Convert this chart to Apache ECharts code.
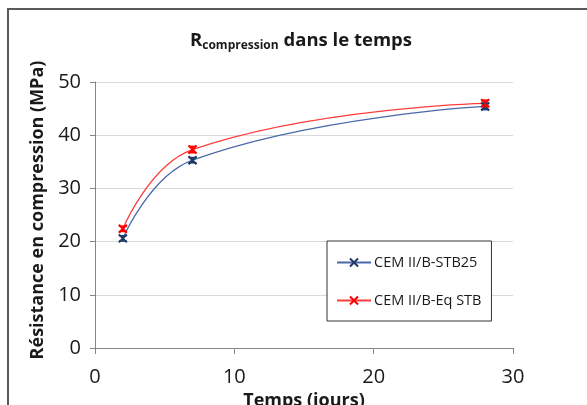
<!DOCTYPE html>
<html>
<head>
<meta charset="utf-8">
<script src="https://cdn.jsdelivr.net/npm/echarts@6/dist/echarts.min.js"></script>
<style>
    html, body { margin: 0; padding: 0; background: #fff; }
    #chart { width: 587px; height: 405px; }
</style>
</head>
<body>
<div id="chart"></div>
<script>
// jours de mesure
var days = [2, 7, 28];
// résistance (MPa) et demi-largeur des barres d'erreur
var stb25 = [20.6, 35.3, 45.4];
var stb25Err = [0.5, 0.5, 0.6];
var eqStb = [22.4, 37.3, 46.0];
var eqStbErr = [0.5, 0.6, 0.6];
var seriesNames = ['CEM II/B-STB25', 'CEM II/B-Eq STB'];
var xTicks = [0, 10, 20, 30];
var yTicks = [0, 10, 20, 30, 40, 50];

var FONT = 'Open Sans';
var crossPath = 'path://M0,0L10,10M10,0L0,10';

function pairs(xs, ys) {
    return xs.map(function (x, i) { return [x, ys[i]]; });
}
function errData(xs, ys, es) {
    return xs.map(function (x, i) { return [x, ys[i], es[i]]; });
}

// barres d'erreur dessinées via une série custom
function errorBars(color) {
    return {
        type: 'custom',
        silent: true,
        z: 4,
        renderItem: function (params, api) {
            var x = api.value(0), y = api.value(1), e = api.value(2);
            var top = api.coord([x, y + e]);
            var bot = api.coord([x, y - e]);
            var w = 4;
            var st = { stroke: color, lineWidth: 1.5 };
            return {
                type: 'group',
                children: [
                    { type: 'line', shape: { x1: top[0], y1: top[1], x2: bot[0], y2: bot[1] }, style: st },
                    { type: 'line', shape: { x1: top[0] - w, y1: top[1], x2: top[0] + w, y2: top[1] }, style: st },
                    { type: 'line', shape: { x1: bot[0] - w, y1: bot[1], x2: bot[0] + w, y2: bot[1] }, style: st }
                ]
            };
        }
    };
}

var chart = echarts.init(document.getElementById('chart'));
chart.setOption({
    animation: false,
    backgroundColor: '#fff',
    graphic: [{
        type: 'rect',
        shape: { x: 8, y: 9, width: 600, height: 420 },
        style: { fill: 'none', stroke: '#595959', lineWidth: 2 },
        silent: true
    }],
    title: {
        text: '{r|R}{sub|compression}{r| dans le temps}',
        left: 296,
        textAlign: 'center',
        top: 24,
        textStyle: {
            rich: {
                r: { fontFamily: FONT, fontWeight: 'bold', fontSize: 18.5, color: '#1a1a1a', lineHeight: 24 },
                sub: { fontFamily: FONT, fontWeight: 'bold', fontSize: 12, color: '#1a1a1a', padding: [10, 0, 0, 0], lineHeight: 24 }
            }
        }
    },
    legend: {
        data: seriesNames,
        orient: 'vertical',
        left: 327,
        top: 241,
        padding: [14, 10, 13, 9],
        itemGap: 23,
        itemWidth: 34,
        itemHeight: 10,
        backgroundColor: '#fff',
        borderColor: '#333',
        borderWidth: 1,
        textStyle: { fontFamily: FONT, fontSize: 14.5, color: '#1a1a1a', padding: [0, 0, 0, -2] }
    },
    grid: { left: 95, right: 74, top: 82, bottom: 57, outerBoundsMode: 'none' },
    xAxis: {
        type: 'value',
        min: xTicks[0],
        max: xTicks[xTicks.length - 1],
        interval: 10,
        name: 'Temps (jours)',
        nameLocation: 'middle',
        nameGap: 40,
        nameTextStyle: { fontFamily: FONT, fontWeight: 'bold', fontSize: 18, color: '#1a1a1a' },
        axisLine: { lineStyle: { color: '#868686', width: 1 } },
        axisTick: { show: true, length: 6, lineStyle: { color: '#868686' } },
        axisLabel: { fontFamily: FONT, fontSize: 20, color: '#1a1a1a', margin: 19 },
        splitLine: { show: false }
    },
    yAxis: {
        type: 'value',
        min: yTicks[0],
        max: yTicks[yTicks.length - 1],
        interval: 10,
        name: 'Résistance en compression (MPa)',
        nameLocation: 'middle',
        nameGap: 48,
        nameTextStyle: { fontFamily: FONT, fontWeight: 'bold', fontSize: 18, color: '#1a1a1a', padding: [0, 0, 0, 10] },
        axisLine: { show: true, lineStyle: { color: '#868686', width: 1 } },
        axisTick: { show: true, length: 5, lineStyle: { color: '#868686' } },
        axisLabel: { fontFamily: FONT, fontSize: 20, color: '#1a1a1a', margin: 14 },
        splitLine: { show: true, lineStyle: { color: '#d9d9d9', width: 1 } }
    },
    series: [
        {
            name: seriesNames[0],
            type: 'line',
            data: pairs(days, stb25),
            smooth: 0.45,
            symbol: crossPath,
            symbolSize: 8,
            lineStyle: { color: '#4a69a8', width: 1.3 },
            itemStyle: { color: '#1f3864', borderColor: '#1f3864', borderWidth: 2 },
            z: 3
        },
        {
            name: seriesNames[1],
            type: 'line',
            data: pairs(days, eqStb),
            smooth: 0.45,
            symbol: crossPath,
            symbolSize: 8,
            lineStyle: { color: '#ff3b3b', width: 1.3 },
            itemStyle: { color: '#ff0000', borderColor: '#ff0000', borderWidth: 2 },
            z: 3
        },
        Object.assign(errorBars('#1f3864'), { data: errData(days, stb25, stb25Err) }),
        Object.assign(errorBars('#ff0000'), { data: errData(days, eqStb, eqStbErr) })
    ]
});
</script>
</body>
</html>
